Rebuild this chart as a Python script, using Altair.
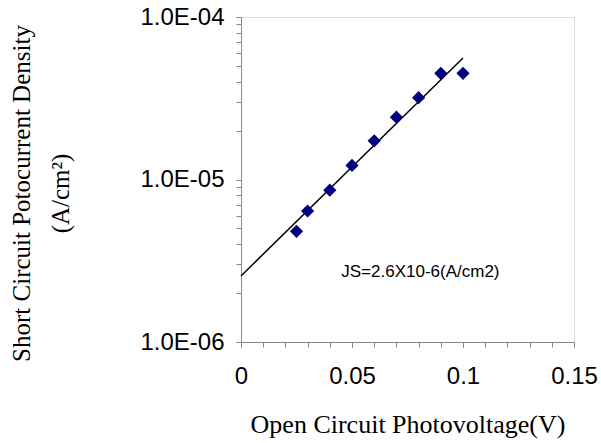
import altair as alt
import pandas as pd

# measured data points
voltage = [0.025, 0.03, 0.04, 0.05, 0.06, 0.07, 0.08, 0.09, 0.10]
current = [4.8e-6, 6.4e-6, 8.6e-6, 1.22e-5, 1.73e-5, 2.42e-5, 3.19e-5, 4.5e-5, 4.5e-5]

# fitted line endpoints
fit_v = [0.0, 0.1]
fit_j = [2.55e-6, 5.6e-5]

# annotation
note_text = ["JS=2.6X10-6(A/cm2)"]
note_v = [0.0808]
note_j = [2.5e-6]

x_major = [0, 0.05, 0.1, 0.15]
x_minor = [round(i * 0.01, 2) for i in range(16)]
y_major = [1e-6, 1e-5, 1e-4]
y_minor = [k * 10.0 ** e for e in (-6, -5) for k in range(1, 10)] + [1e-4]

pts = pd.DataFrame({"v": voltage, "j": current})
fit = pd.DataFrame({"v": fit_v, "j": fit_j})
note = pd.DataFrame({"v": note_v, "j": note_j, "t": note_text})

x_scale = alt.Scale(domain=[0, 0.15], nice=False, zero=False)
y_scale = alt.Scale(type="log", domain=[1e-6, 1e-4], nice=False)

x_axis_major = alt.Axis(
    orient="bottom",
    values=x_major,
    labelExpr="'' + datum.value",
    title="Open Circuit Photovoltage(V)",
    labelFont="Liberation Sans", labelFontSize=24, labelColor="black",
    labelPadding=17, labelFlush=False,
    titleFont="Liberation Serif", titleFontSize=26, titleFontWeight="normal",
    titleColor="black", titlePadding=23,
    grid=False,
)
x_axis_minor = alt.Axis(
    orient="bottom", values=x_minor, labels=False, domain=False,
    title="", grid=False,
)
y_axis_major = alt.Axis(
    orient="left",
    values=y_major,
    labelExpr="'1.0E-0' + (-round(log(datum.value)/LN10))",
    title=["Short Circuit Potocurrent Density", "(A/cm\u00b2)"],
    labelFont="Liberation Sans", labelFontSize=24, labelColor="black",
    labelPadding=12, labelFlush=False,
    titleFont="Liberation Serif", titleFontSize=25, titleFontWeight="normal",
    titleColor="black", titleAngle=-90, titleX=-212, titleY=176,
    titleAlign="center", titleBaseline="alphabetic", titleLineHeight=39,
    grid=False,
)
y_axis_minor = alt.Axis(
    orient="left", values=y_minor, labels=False, domain=False,
    title="", grid=False,
)

line = alt.Chart(fit).mark_line(color="black", strokeWidth=1.5).encode(
    x=alt.X("v:Q", scale=x_scale, axis=x_axis_major),
    y=alt.Y("j:Q", scale=y_scale, axis=y_axis_major),
)

points = alt.Chart(pts).mark_point(
    shape="diamond", filled=True, size=175, color="#000080", opacity=1
).encode(
    x=alt.X("v:Q", scale=x_scale, axis=x_axis_minor),
    y=alt.Y("j:Q", scale=y_scale, axis=y_axis_minor),
)

label = alt.Chart(note).mark_text(
    font="Liberation Sans", fontSize=17, color="black", align="center",
    baseline="alphabetic",
).encode(
    x=alt.X("v:Q", scale=x_scale, axis=None),
    y=alt.Y("j:Q", scale=y_scale, axis=None),
    text="t:N",
)

chart = alt.layer(line, points, label).resolve_axis(
    x="independent", y="independent"
).properties(
    width=333, height=325,
    autosize=alt.AutoSizeParams(type="none"),
    padding={"left": 241, "top": 17, "right": 27, "bottom": 101},
).configure_view(
    stroke="black", strokeWidth=1.5,
).configure_axis(
    domainColor="black", domainWidth=1.8, tickColor="black", tickWidth=1.5,
    tickSize=7,
).configure(background="white")

chart.save("out.html", embed_options={"renderer": "svg", "actions": False})
